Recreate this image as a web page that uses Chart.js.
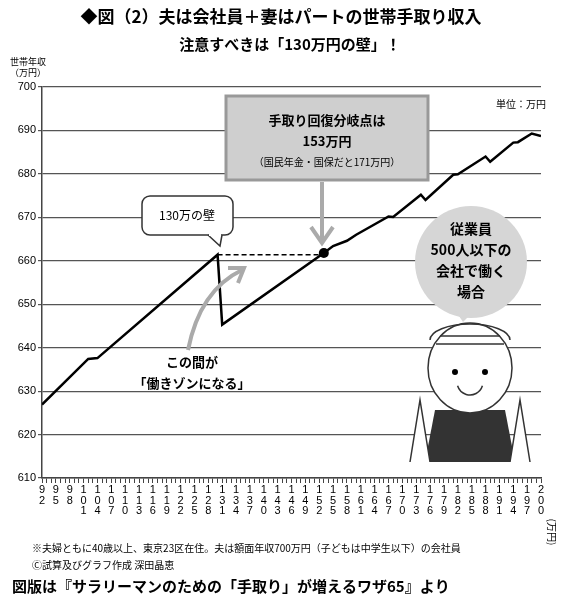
<!DOCTYPE html><html><head><meta charset="utf-8">
<script src="https://cdn.jsdelivr.net/npm/chart.js@4"></script>
<style>body{margin:0;background:#fff}canvas{display:block}</style></head><body>
<canvas id="c" width="563" height="603"></canvas>
<script>
const incomeX = [92,102,104,130,131,153,155,158,160,167,168,174,175,181,182,188,189,194,195,198,200];
const takeHome = [626.9,637.4,637.6,661.4,645.3,661.8,663.4,664.6,666,670.2,670.1,675.2,674,679.8,679.9,684,682.8,687.2,687.3,689.3,688.7];
const yTicks = [610,620,630,640,650,660,670,680,690,700];
const F = '"Noto Sans CJK JP", sans-serif';
const deco = {id:'deco',afterDraw(ch){
 const c=ch.ctx,xs=ch.scales.x,ys=ch.scales.y;
 c.save();c.textAlign='center';c.textBaseline='middle';c.fillStyle='#000';
 c.font='bold 17px '+F;c.fillText('◆図（2）夫は会社員＋妻はパートの世帯手取り収入',281,17);
 c.font='bold 15px '+F;c.fillText('注意すべきは「130万円の壁」！',290,44);
 c.font='9px '+F;c.fillText('世帯年収',28,62);c.fillText('（万円）',28,73);
 c.textAlign='right';c.font='10px '+F;c.fillText('単位：万円',546,104);
 c.textAlign='left';c.fillText('※夫婦ともに40歳以上、東京23区在住。夫は額面年収700万円（子どもは中学生以下）の会社員',32,548);
 c.fillText('Ⓒ試算及びグラフ作成 深田晶恵',32,565);
 c.font='bold 15px '+F;c.fillText('図版は『サラリーマンのための「手取り」が増えるワザ65』より',12,586);
 c.save();c.translate(552,532);c.rotate(Math.PI/2);c.font='10px '+F;c.textAlign='center';c.fillText('(万円)',0,0);c.restore();
 const x1=xs.getPixelForValue(130),x2=xs.getPixelForValue(153),yy=ys.getPixelForValue(661.4);
 c.setLineDash([5,3]);c.lineWidth=1.5;c.strokeStyle='#000';c.beginPath();c.moveTo(x1,yy);c.lineTo(x2,yy);c.stroke();c.setLineDash([]);
 const dy=ys.getPixelForValue(661.8);c.beginPath();c.arc(x2,dy,5,0,7);c.fill();
 c.fillStyle='#cfcfcf';c.strokeStyle='#999';c.lineWidth=3;c.fillRect(226,96,202,84);c.strokeRect(226,96,202,84);
 c.fillStyle='#000';c.textAlign='center';c.font='bold 13px '+F;c.fillText('手取り回復分岐点は',327,120);c.fillText('153万円',327,141);
 c.font='10px '+F;c.fillText('（国民年金・国保だと171万円）',327,162);
 c.strokeStyle='#aaa';c.lineWidth=4;c.beginPath();c.moveTo(322,182);c.lineTo(322,243);c.stroke();
 c.beginPath();c.moveTo(311,227);c.lineTo(322,243);c.lineTo(333,227);c.stroke();
 c.fillStyle='#fff';c.strokeStyle='#333';c.lineWidth=1.5;c.beginPath();c.roundRect(142,196,91,39,8);c.fill();c.stroke();
 c.beginPath();c.moveTo(208,235);c.lineTo(220,246);c.lineTo(222,235);c.fillStyle='#fff';c.fill();c.stroke();
 c.fillStyle='#fff';c.fillRect(209,232,12,4);
 c.fillStyle='#000';c.font='12px '+F;c.fillText('130万の壁',187,215);
 c.strokeStyle='#aaa';c.lineWidth=4;c.beginPath();c.moveTo(188,350);c.quadraticCurveTo(200,290,242,270);c.stroke();
 c.beginPath();c.moveTo(228,268);c.lineTo(244,268);c.lineTo(238,283);c.stroke();
 c.fillStyle='#000';c.font='bold 13px '+F;c.fillText('この間が',192,362);c.fillText('「働きゾンになる」',192,383);
 c.fillStyle='#d6d6d6';c.beginPath();c.ellipse(471,262,56,56,0,0,7);c.fill();
 c.beginPath();c.moveTo(455,310);c.lineTo(463,322);c.lineTo(475,310);c.fill();
 c.fillStyle='#000';c.font='bold 14px '+F;['従業員','500人以下の','会社で働く','場合'].forEach((t,i)=>c.fillText(t,471,229+i*21));
 c.lineWidth=1.5;c.strokeStyle='#333';
 c.fillStyle='#333';c.beginPath();c.moveTo(425,462);c.lineTo(435,410);c.lineTo(505,410);c.lineTo(515,462);c.closePath();c.fill();
 c.fillStyle='#fff';c.beginPath();c.moveTo(410,462);c.lineTo(420,400);c.lineTo(430,462);c.fill();c.stroke();
 c.beginPath();c.moveTo(530,462);c.lineTo(520,400);c.lineTo(510,462);c.fill();c.stroke();
 c.beginPath();c.ellipse(470,368,42,45,0,0,7);c.fill();c.stroke();
 c.beginPath();c.ellipse(470,340,40,16,0,Math.PI,0);c.stroke();
 c.beginPath();c.moveTo(440,336);c.lineTo(500,336);c.moveTo(436,344);c.lineTo(504,344);c.stroke();
 c.fillStyle='#000';c.beginPath();c.arc(455,372,3,0,7);c.arc(485,372,3,0,7);c.fill();
 c.beginPath();c.arc(470,382,13,0.3,Math.PI-0.3);c.stroke();
 c.restore();
}};
new Chart(document.getElementById('c'),{type:'line',
 data:{datasets:[{data:incomeX.map((x,i)=>({x,y:takeHome[i]})),borderColor:'#000',borderWidth:2.5,pointRadius:0,tension:0}]},
 options:{responsive:false,animation:false,devicePixelRatio:1,
  layout:{padding:{top:87,right:22,bottom:68,left:0}},
  plugins:{legend:{display:false},tooltip:{enabled:false}},
  scales:{
   x:{type:'linear',min:92,max:200,afterFit(s){s.height=57;},
    afterBuildTicks(s){s.ticks=[];for(let v=92;v<=200;v++)s.ticks.push({value:v});},
    grid:{drawOnChartArea:false,tickLength:5,color:'#444'},border:{color:'#444',width:1.5},
    ticks:{autoSkip:false,maxRotation:0,padding:2,color:'#000',font:{size:11,family:'Liberation Sans',lineHeight:0.95},
     callback:v=>((v-92)%3===0?String(v).split(''):'')}},
   y:{min:610,max:700,afterFit(s){s.width=42;},
    afterBuildTicks(s){s.ticks=yTicks.map(v=>({value:v}));},
    grid:{color:'#555',lineWidth:1.2,tickLength:4},border:{color:'#444',width:1.5},
    ticks:{color:'#000',padding:2,font:{size:11,family:'Liberation Sans'}}}}},
 plugins:[deco]});
</script></body></html>
